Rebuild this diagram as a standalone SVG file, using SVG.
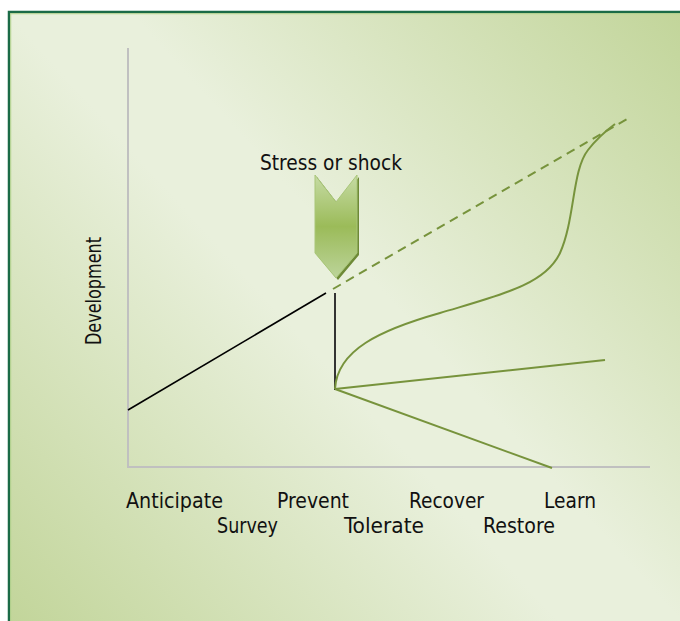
<svg xmlns="http://www.w3.org/2000/svg" width="680" height="621" viewBox="0 0 680 621">
<defs>
<linearGradient id="bg" gradientUnits="userSpaceOnUse" x1="680" y1="12" x2="8" y2="621">
<stop offset="0" stop-color="#c2d59a"/>
<stop offset="0.45" stop-color="#e9f0dc"/>
<stop offset="0.55" stop-color="#e9f0dc"/>
<stop offset="1" stop-color="#c2d59a"/>
</linearGradient>
<linearGradient id="chev" x1="0" y1="0" x2="0" y2="1">
<stop offset="0" stop-color="#c6dba4"/>
<stop offset="0.5" stop-color="#9bbb59"/>
<stop offset="1" stop-color="#bcd49a"/>
</linearGradient>
<style>
.lbl{font-family:"DejaVu Sans Condensed","DejaVu Sans",sans-serif;font-stretch:condensed;font-size:22px;fill:#111;}
.g{stroke:#77933c;stroke-width:2;fill:none;}
.axis{stroke:#c0c0c0;stroke-width:2;fill:none;}
</style>
</defs>
<rect x="0" y="0" width="680" height="621" fill="#ffffff"/>
<rect x="9" y="12" width="700" height="700" fill="url(#bg)" stroke="#1b6b47" stroke-width="2.5"/>
<rect x="10.75" y="13.75" width="700" height="700" fill="none" stroke="#b9d690" stroke-width="1"/>
<g id="axes">
<line class="axis" x1="128" y1="48" x2="128" y2="467"/>
<line class="axis" x1="127" y1="467" x2="650" y2="467"/>
</g>
<g id="connectors">
<line x1="128" y1="410" x2="326" y2="293" stroke="#000" stroke-width="1.6"/>
<line x1="333" y1="289" x2="627" y2="119" stroke="#77933c" stroke-width="2" stroke-dasharray="9,6"/>
<line x1="335" y1="293" x2="335" y2="390" stroke="#333" stroke-width="2"/>
<line class="g" x1="335" y1="389" x2="605" y2="360"/>
<line class="g" x1="335" y1="389" x2="552" y2="468"/>
<path class="g" d="M335,389 C337,350 380,330 440,313 C500,295 545,285 560,253 C575,220 572,170 588,150 C598,137 607,130 615,124"/>
</g>
<g id="shock">
<polygon points="317,177 338,204 359,177 359,255 338,280 317,255" fill="#6e8a37"/>
<polygon points="315,175 336,202 357,175 357,253 336,278 315,253" fill="url(#chev)" stroke="#a9c679" stroke-width="1"/>
<text class="lbl" x="260" y="170" textLength="142" lengthAdjust="spacingAndGlyphs">Stress or shock</text>
</g>
<g id="ylabel">
<text class="lbl" style="font-size:21px" transform="translate(101,345) rotate(-90)" textLength="108" lengthAdjust="spacingAndGlyphs">Development</text>
</g>
<g id="labels">
<text class="lbl" x="126" y="508" textLength="97" lengthAdjust="spacingAndGlyphs">Anticipate</text>
<text class="lbl" x="277" y="508" textLength="72" lengthAdjust="spacingAndGlyphs">Prevent</text>
<text class="lbl" x="409" y="508" textLength="75" lengthAdjust="spacingAndGlyphs">Recover</text>
<text class="lbl" x="544" y="508" textLength="52" lengthAdjust="spacingAndGlyphs">Learn</text>
<text class="lbl" x="217" y="533" textLength="61" lengthAdjust="spacingAndGlyphs">Survey</text>
<text class="lbl" x="344" y="533" textLength="80" lengthAdjust="spacingAndGlyphs">Tolerate</text>
<text class="lbl" x="483" y="533" textLength="72" lengthAdjust="spacingAndGlyphs">Restore</text>
</g>
</svg>
